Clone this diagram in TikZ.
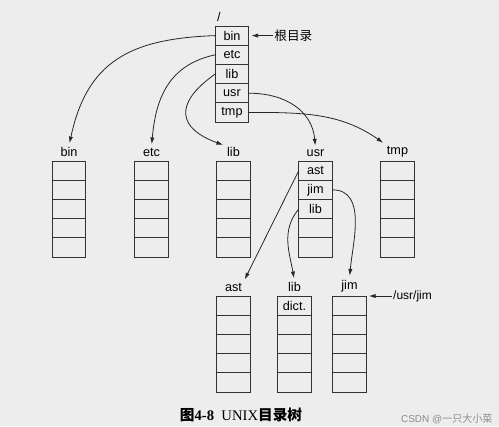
\documentclass[tikz,border=0pt]{standalone}
\usepackage{fontspec}
\setmainfont{Liberation Sans}
\newfontfamily\cjk{Noto Sans CJK SC}
\newfontfamily\capserif{Liberation Serif}
\usetikzlibrary{arrows.meta, positioning}

\begin{document}
\begin{tikzpicture}[
  x=0.75pt, y=0.75pt,
  cell/.style={
    draw=black!80, line width=0.6pt,
    minimum width=25.1pt, minimum height=14.4pt,
    inner sep=0pt, outer sep=0pt,
    font=\fontsize{9.5}{11}\selectfont
  },
  dirname/.style={font=\fontsize{9.5}{11}\selectfont, inner sep=1pt},
  link/.style={-{Latex[length=5pt, width=3.2pt]}, line width=0.6pt, black!85, shorten >=2pt},
  note/.style={font=\fontsize{9}{11}\selectfont, inner sep=1pt},
]
  % Paper
  \fill[black!7] (0,0) rectangle (499,-426);
  \useasboundingbox (0,0) rectangle (499,-426);

  % Root directory
  \foreach \entry [count=\i] in {bin,etc,lib,usr,tmp}
    \node[cell] (root-\i) at (232, {-26-(\i-0.5)*19.2}) {\entry};
  \node[dirname, above=2pt of root-1, xshift=-9.75pt] (root-name) {/};

  % Second level
  \foreach \folder/\x in {bin/69, etc/151.5, lib/233.5, tmp/397.5}
    \foreach \i in {1,...,5}
      \node[cell] (\folder-\i) at (\x, {-161-(\i-0.5)*19.2}) {};
  \foreach \entry [count=\i] in {ast,jim,lib,{},{}}
    \node[cell] (usr-\i) at (315.5, {-161-(\i-0.5)*19.2}) {\entry};
  \foreach \folder in {bin,etc,lib,usr,tmp}
    \node[dirname, above=2pt of \folder-1] (\folder-name) {\folder};

  % Third level (under usr)
  \foreach \folder/\x in {ast/233.5, jim/349.5}
    \foreach \i in {1,...,5}
      \node[cell] (\folder-\i) at (\x, {-296-(\i-0.5)*19.2}) {};
  \foreach \entry [count=\i] in {dict.,{},{},{},{}}
    \node[cell] (usrlib-\i) at (294.5, {-296-(\i-0.5)*19.2}) {\entry};
  \node[dirname, above=2pt of ast-1] (ast-name) {ast};
  \node[dirname, above=2pt of usrlib-1] (usrlib-name) {lib};
  \node[dirname, above=2pt of jim-1] (jim-name) {jim};

  % Links from root
  \draw[link] (root-1.west) to[out=182, in=78, looseness=1.2] (bin-name.north);
  \draw[link] (root-2.west) to[out=192, in=85, looseness=1.1] (etc-name.north);
  \draw[link] (root-3.west) to[out=215, in=160, looseness=1.8] (lib-name.north west);
  \draw[link] (root-4.east) to[out=0, in=95, looseness=1.1] (usr-name.north);
  \draw[link] (root-5.east) to[out=0, in=145] (tmp-name.north west);

  % Links from usr
  \draw[link] (usr-1.west) -- (ast-name.north east);
  \draw[link] (usr-2.east) to[out=0, in=85] (jim-name.north);
  \draw[link] (usr-3.west) to[out=230, in=100] (usrlib-name.north);

  % Notes
  \node[note, font=\cjk\fontsize{9.5}{11}\selectfont, right=18pt of root-1] (root-note) {根目录};
  \draw[link] (root-note) -- (root-1);
  \node[note, right=19pt of jim-1.north east] (jim-note) {/usr/jim};
  \draw[link] (jim-note) -- (jim-1.north east);

  % Caption
  \node[font=\fontsize{11}{13}\selectfont] (caption) at (241,-415)
    {{\cjk\bfseries 图}{\capserif\bfseries 4-8}\enspace{\capserif UNIX}{\cjk\bfseries 目录树}};
  \node[font=\fontsize{7.5}{9}\selectfont, text=black!45, anchor=east] (mark) at (497,-419)
    {CSDN @{\cjk 一只大小菜}};
\end{tikzpicture}
\end{document}
